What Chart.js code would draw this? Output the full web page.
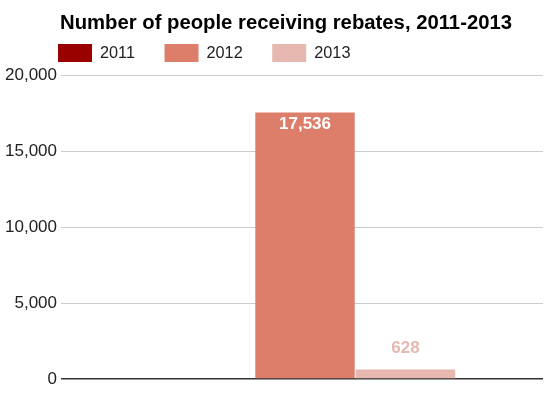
<!DOCTYPE html>
<html>
<head>
<meta charset="utf-8">
<script src="https://cdn.jsdelivr.net/npm/chart.js"></script>
<style>
  body { margin: 0; background: #fff; }
  #wrap { width: 550px; height: 398px; }
</style>
</head>
<body>
<div id="wrap"><canvas id="myChart"></canvas></div>
<script>
// data
var categories = [''];
var seriesNames = ['2011', '2012', '2013'];
var values2011 = [0];
var values2012 = [17536];
var values2013 = [628];
var yTicks = [0, 5000, 10000, 15000, 20000];
var colors = ['#990000', '#dd7e6b', '#e6b8af'];

var font = '"Liberation Sans", Arial, sans-serif';

// title + legend drawn in the top padding
var headerPlugin = {
    id: 'header',
    afterDraw: function (chart) {
        var ctx = chart.ctx;
        ctx.save();
        ctx.fillStyle = '#000';
        ctx.font = 'bold 20.3px ' + font;
        ctx.textBaseline = 'middle';
        ctx.textAlign = 'left';
        ctx.fillText('Number of people receiving rebates, 2011-2013', 60, 23);

        ctx.font = '16.3px ' + font;
        var x = 58;
        chart.data.datasets.forEach(function (ds) {
            ctx.fillStyle = ds.backgroundColor;
            ctx.fillRect(x, 44, 34, 18);
            ctx.fillStyle = '#222';
            ctx.fillText(ds.label, x + 42, 54);
            x += 42 + ctx.measureText(ds.label).width + 29.5;
        });
        ctx.restore();
    }
};

// value labels on bars
var valueLabels = {
    id: 'valueLabels',
    afterDatasetsDraw: function (chart) {
        var ctx = chart.ctx;
        ctx.save();
        ctx.font = 'bold 17px ' + font;
        ctx.textAlign = 'center';
        ctx.textBaseline = 'middle';
        chart.data.datasets.forEach(function (ds, i) {
            var meta = chart.getDatasetMeta(i);
            meta.data.forEach(function (bar, j) {
                var v = ds.data[j];
                if (!v) return;
                var txt = v.toLocaleString('en-US');
                var h = bar.base - bar.y;
                if (h > 30) {
                    ctx.fillStyle = '#fff';
                    ctx.fillText(txt, bar.x, bar.y + 12);
                } else {
                    ctx.fillStyle = ds.backgroundColor;
                    ctx.fillText(txt, bar.x, bar.y - 21);
                }
            });
        });
        ctx.restore();
    }
};

var ctx = document.getElementById('myChart').getContext('2d');
var myChart = new Chart(ctx, {
    type: 'bar',
    data: {
        labels: categories,
        datasets: [{
            label: seriesNames[0],
            data: values2011,
            backgroundColor: colors[0]
        }, {
            label: seriesNames[1],
            data: values2012,
            backgroundColor: colors[1]
        }, {
            label: seriesNames[2],
            data: values2013,
            backgroundColor: colors[2]
        }]
    },
    options: {
        responsive: true,
        maintainAspectRatio: false,
        animation: false,
        layout: { padding: { top: 75, right: 7, bottom: 19, left: 0 } },
        datasets: {
            bar: { categoryPercentage: 0.633, barPercentage: 0.99 }
        },
        plugins: {
            legend: { display: false },
            title: { display: false },
            tooltip: { enabled: false }
        },
        scales: {
            x: { display: false },
            y: {
                min: 0,
                max: 20000,
                afterFit: function (scale) { scale.width = 67; },
                afterBuildTicks: function (scale) {
                    scale.ticks = yTicks.map(function (v) { return { value: v }; });
                },
                border: { display: false },
                grid: {
                    drawTicks: true,
                    tickLength: 6,
                    color: function (c) { return c.tick && c.tick.value === 0 ? '#333' : '#ccc'; },
                    lineWidth: function (c) { return c.tick && c.tick.value === 0 ? 1.5 : 1; }
                },
                ticks: {
                    padding: 4,
                    color: '#222',
                    font: { family: font, size: 17 },
                    callback: function (v) { return v.toLocaleString('en-US'); }
                }
            }
        }
    },
    plugins: [headerPlugin, valueLabels]
});
</script>
</body>
</html>
